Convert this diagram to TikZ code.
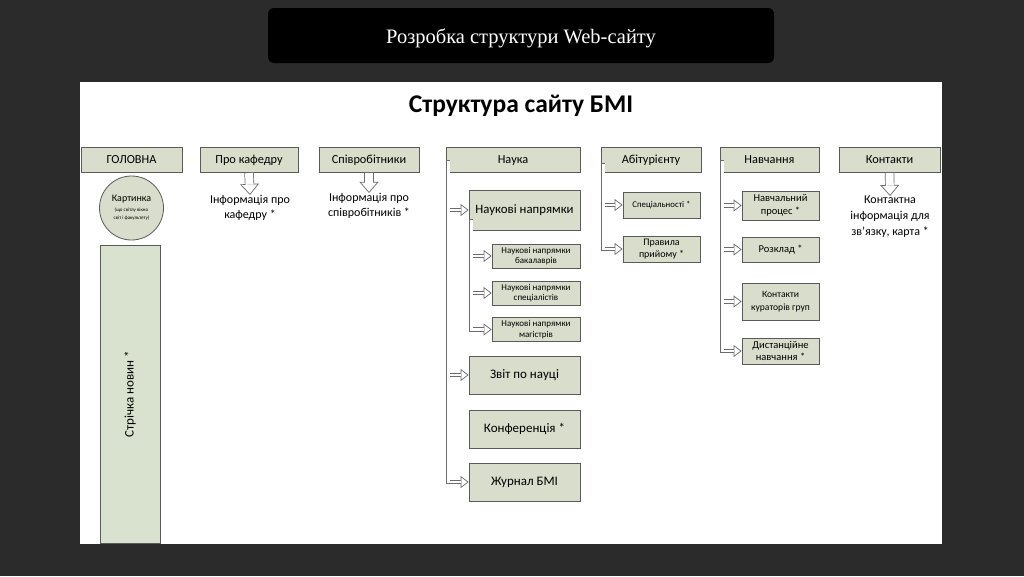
\documentclass[tikz,border=0pt]{standalone}
\usepackage{fontspec}
\setmainfont{Carlito}
\newfontfamily\slideserif{Liberation Serif}
\usetikzlibrary{arrows.meta}

\definecolor{slidebg}{HTML}{2B2B2B}
\definecolor{boxfill}{HTML}{D8DECB}
\definecolor{newsfill}{HTML}{D9E2CF}
\definecolor{boxline}{HTML}{5A5A5A}
\definecolor{pipegray}{HTML}{6B6B6B}

\tikzset{
  box/.style={draw=boxline, fill=boxfill, line width=0.8pt, align=center, inner sep=1pt},
  topbox/.style={box, minimum height=25pt, text height=9pt, text depth=2pt, font=\fontsize{12.3}{14}\selectfont},
  bigbox/.style={box, minimum width=111pt, minimum height=38pt, text height=9.5pt, text depth=2pt, font=\fontsize{13}{15}\selectfont},
  subbox/.style={box, minimum width=88pt, minimum height=24pt, font=\fontsize{9}{10.5}\selectfont},
  sidebox/.style={box, minimum width=77pt, font=\fontsize{10.5}{12.5}\selectfont},
  infotext/.style={align=center, inner sep=0pt, font=\fontsize{12}{15.5}\selectfont},
  % hollow connectors: outline pass, then white pass
  pipe/.style={draw=pipegray, line width=4.4pt,
    -{Triangle[fill=white, length=8pt, width=12pt, line width=0.7pt]}},
  pipefill/.style={draw=white, line width=2.8pt, shorten >=7.4pt},
  fatpipe/.style={draw=pipegray, line width=9.4pt,
    -{Triangle[fill=white, length=11pt, width=19pt, line width=0.7pt]}},
  fatpipefill/.style={draw=white, line width=8pt, shorten >=10.3pt, shorten <=0.7pt},
}

% all connectors, drawn once per pass
\newcommand\sitelinks[2]{%
  % block arrows under the top items
  \draw[#2] (kafedra.south) -- (kafinfo.north);
  \draw[#2] (spivr.south) -- (spivinfo.north);
  \draw[#2] (kontakty.south) -- (kontinfo.north);
  % Наука
  \draw[#1] (nt) |- (zhurnal.west);
  \draw[#1] (nt |- napr.west) -- (napr.west);
  \draw[#1] (nt |- zvit.west) -- (zvit.west);
  \draw[#1] (nst) |- (mag.west);
  \draw[#1] (nst |- bak.west) -- (bak.west);
  \draw[#1] (nst |- spec.west) -- (spec.west);
  % Абітурієнту
  \draw[#1] (at) |- (pravyla.west);
  \draw[#1] (at |- specabit.west) -- (specabit.west);
  % Навчання
  \draw[#1] (vt) |- (dist.west);
  \draw[#1] (vt |- navchproc.west) -- (navchproc.west);
  \draw[#1] (vt |- rozklad.west) -- (rozklad.west);
  \draw[#1] (vt |- kuratory.west) -- (kuratory.west);
}

\begin{document}
\begin{tikzpicture}[x=1pt,y=-1pt]
  \useasboundingbox (0,0) rectangle (1024,576);
  \fill[slidebg] (0,0) rectangle (1024,576);

  % slide title
  \fill[black, rounded corners=6pt] (268,8) rectangle (774,63);
  \node[text=white, font=\slideserif\fontsize{20.5}{22}\selectfont] (slidetitle) at (521,38) {Розробка структури Web-сайту};

  % white panel
  \fill[white] (80,82) rectangle (942,544);
  \node[font=\bfseries\fontsize{25.5}{28}\selectfont] (maintitle) at (521,106) {Структура сайту БМІ};

  % top row
  \node[topbox, minimum width=101pt] (glavna) at (131.5,159.5) {ГОЛОВНА};
  \node[topbox, minimum width=98pt] (kafedra) at (249,159.5) {Про кафедру};
  \node[topbox, minimum width=100pt] (spivr) at (369,159.5) {Співробітники};
  \node[topbox, minimum width=134pt] (nauka) at (513,159.5) {Наука};
  \node[topbox, minimum width=100pt] (abit) at (651,159.5) {Абітурієнту};
  \node[topbox, minimum width=99pt] (navch) at (769.5,159.5) {Навчання};
  \node[topbox, minimum width=101pt] (kontakty) at (889.5,159.5) {Контакти};

  % ГОЛОВНА
  \node[box, circle, minimum size=64pt, inner sep=0pt, font=\fontsize{10}{11}\selectfont] (kartynka) at (131.5,208)
    {Картинка\\[-1pt]{\fontsize{5}{6}\selectfont (що світлу вікно}\\[-3pt]{\fontsize{5}{6}\selectfont світ і факультету)}};
  \node[box, fill=newsfill, rotate=90, minimum width=298pt, minimum height=60pt,
    font=\fontsize{13}{15}\selectfont] (strichka) at (130,394) {Стрічка новин *};

  % texts under the top items
  \node[infotext] (kafinfo) at (250,208) {Інформація про\\кафедру *};
  \node[infotext] (spivinfo) at (369,206) {Інформація про\\співробітників *};
  \node[infotext, font=\fontsize{12}{16}\selectfont] (kontinfo) at (890,217) {Контактна\\інформація для\\зв’язку, карта *};

  % Наука
  \node[bigbox, minimum height=40pt, font=\fontsize{12.8}{15}\selectfont] (napr) at (524.5,210) {Наукові напрямки};
  \node[subbox] (bak) at (536,256) {Наукові напрямки\\бакалаврів};
  \node[subbox] (spec) at (536,293) {Наукові напрямки\\спеціалістів};
  \node[subbox] (mag) at (536,329.5) {Наукові напрямки\\магістрів};
  \node[bigbox] (zvit) at (524.5,375) {Звіт по науці};
  \node[bigbox] (konf) at (524.5,429) {Конференція *};
  \node[bigbox] (zhurnal) at (524.5,482) {Журнал БМІ};

  % Абітурієнту
  \node[sidebox, minimum height=26pt, text height=6.5pt, text depth=1.5pt, font=\fontsize{8.8}{10}\selectfont] (specabit) at (661.5,205) {Спеціальності *};
  \node[sidebox, minimum height=26pt, font=\fontsize{10}{12.5}\selectfont] (pravyla) at (661.5,249) {Правила\\прийому *};

  % Навчання
  \node[sidebox, minimum height=29pt] (navchproc) at (780.5,205.5) {Навчальний\\процес *};
  \node[sidebox, minimum height=25pt, text height=7.7pt, text depth=1.7pt] (rozklad) at (780.5,249.5) {Розклад *};
  \node[sidebox, minimum height=37pt, font=\fontsize{9.6}{13}\selectfont] (kuratory) at (780.5,301.5) {Контакти\\кураторів груп};
  \node[sidebox, minimum height=26pt] (dist) at (780.5,351) {Дистанційне\\навчання *};

  % trunk starts
  \coordinate (nt) at ([xshift=2.5pt]nauka.west);
  \coordinate (nst) at ([xshift=2.5pt,yshift=-9pt]napr.west);
  \coordinate (at) at ([xshift=2.5pt,yshift=-3pt]abit.west);
  \coordinate (vt) at ([xshift=2.5pt]navch.west);

  \sitelinks{pipe}{fatpipe}
  \sitelinks{pipefill, shorten <=1.2pt}{fatpipefill}
\end{tikzpicture}
\end{document}
